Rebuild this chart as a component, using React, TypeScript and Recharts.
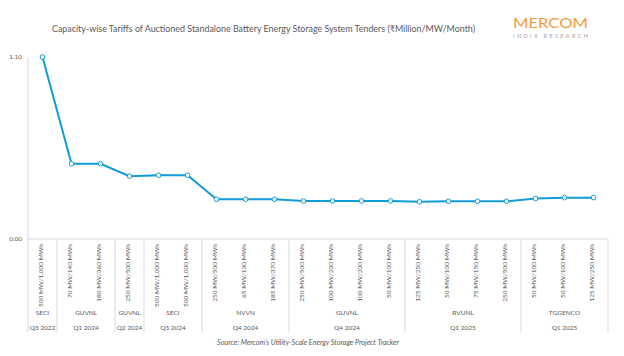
import React from "react";
import { CartesianGrid, Line, LineChart, XAxis, YAxis } from "recharts";

const tenderCapacities = [
  "500 MW/1,000 MWh",
  "70 MW/140 MWh",
  "180 MW/360 MWh",
  "250 MW/500 MWh",
  "500 MW/1,000 MWh",
  "500 MW/1,000 MWh",
  "250 MW/500 MWh",
  "65 MW/130 MWh",
  "185 MW/370 MWh",
  "250 MW/500 MWh",
  "100 MW/200 MWh",
  "100 MW/200 MWh",
  "50 MW/100 MWh",
  "125 MW/250 MWh",
  "50 MW/100 MWh",
  "75 MW/150 MWh",
  "250 MW/500 MWh",
  "50 MW/100 MWh",
  "50 MW/100 MWh",
  "125 MW/250 MWh",
];

const tariffs = [
  1.1, 0.455, 0.455, 0.38, 0.385, 0.385, 0.24, 0.24, 0.24, 0.23, 0.23, 0.23, 0.23,
  0.225, 0.228, 0.228, 0.228, 0.245, 0.25, 0.25,
];

const agencies = ["SECI", "GUVNL", "GUVNL", "SECI", "NVVN", "GUVNL", "RVUNL", "TGGENCO"];
const quarters = ["Q3 2022", "Q1 2024", "Q2 2024", "Q3 2024", "Q4 2024", "Q4 2024", "Q1 2025", "Q1 2025"];
const groupSizes = [1, 2, 1, 2, 3, 4, 4, 3];

const yTicks = [0, 1.1];

const data = tenderCapacities.map((cap, i) => ({ id: `t${i}`, cap, tariff: tariffs[i] }));

// index of first tender in each group
const groupStarts: number[] = [];
groupSizes.reduce((acc, n) => {
  groupStarts.push(acc);
  return acc + n;
}, 0);

const W = 624;
const H = 356;
const PLOT_LEFT = 28;
const PLOT_RIGHT = 608;
const BAND = (PLOT_RIGHT - PLOT_LEFT) / tenderCapacities.length;
const HALF = BAND / 2;

const LINE_COLOR = "#119bd7";
const TEXT = "#595959";
const GRID = "#d9d9d9";
const FONT = "Lato, 'Open Sans', sans-serif";

function CategoryTick(props: any) {
  const { x, y, payload } = props;
  const i = payload.index;
  const g = groupStarts.indexOf(i);
  const isLast = i === tenderCapacities.length - 1;
  return (
    <g>
      <text
        x={x}
        y={y + 5}
        transform={`rotate(-90, ${x}, ${y + 5})`}
        textAnchor="end"
        dy="0.1em"
        fontSize={6.5}
        fill={TEXT}
        fontFamily={FONT}
      >
        {tenderCapacities[i]}
      </text>
      {g >= 0 && (
        <>
          <line x1={x - HALF} x2={x - HALF} y1={y} y2={y + 93} stroke={GRID} strokeWidth={1} />
          <text
            x={x - HALF + (groupSizes[g] * BAND) / 2}
            y={y + 76}
            textAnchor="middle"
            fontSize={6.5}
            fill={TEXT}
            fontFamily={FONT}
          >
            {agencies[g]}
          </text>
          <text
            x={x - HALF + (groupSizes[g] * BAND) / 2}
            y={y + 91}
            textAnchor="middle"
            fontSize={6.5}
            fill={TEXT}
            fontFamily={FONT}
          >
            {quarters[g]}
          </text>
        </>
      )}
      {isLast && <line x1={x + HALF} x2={x + HALF} y1={y} y2={y + 93} stroke={GRID} strokeWidth={1} />}
    </g>
  );
}

export default function App() {
  return (
    <div style={{ position: "absolute", left: 0, top: 0, width: W, height: H, background: "#fff" }}>
      <LineChart
        width={W}
        height={H}
        data={data}
        margin={{ top: 57, right: W - PLOT_RIGHT, bottom: 0, left: 0 }}
      >
        <CartesianGrid horizontal={false} vertical={false} />
        <XAxis
          dataKey="id"
          interval={0}
          height={H - 239}
          padding={{ left: HALF, right: HALF }}
          axisLine={{ stroke: GRID }}
          tickLine={false}
          tickSize={0}
          tickMargin={0}
          tick={<CategoryTick />}
        />
        <YAxis
          width={PLOT_LEFT}
          domain={[0, 1.1]}
          ticks={yTicks}
          axisLine={{ stroke: GRID }}
          tickLine={false}
          tickSize={0}
          tickMargin={6}
          tickFormatter={(v: number) => v.toFixed(2)}
          tick={{ fontSize: 6.5, fill: TEXT, fontFamily: FONT }}
        />
        <Line
          type="linear"
          dataKey="tariff"
          stroke={LINE_COLOR}
          strokeWidth={2}
          dot={{ r: 2.3, fill: "#fff", stroke: LINE_COLOR, strokeWidth: 1 }}
          isAnimationActive={false}
        />
      </LineChart>
      <svg width={W} height={H} style={{ position: "absolute", left: 0, top: 0, pointerEvents: "none" }}>
        <text x={52} y={32} fontSize={9} fill={TEXT} fontFamily={FONT} textLength={423} lengthAdjust="spacingAndGlyphs">
          Capacity-wise Tariffs of Auctioned Standalone Battery Energy Storage System Tenders (₹Million/MW/Month)
        </text>
        <text x={513} y={27.5} fontSize={12.5} fill="#f39a3c" fontFamily={FONT} textLength={75} lengthAdjust="spacingAndGlyphs">
          MERCOM
        </text>
        <text x={513} y={38} fontSize={5.5} fill="#a0a0a0" fontFamily={FONT} textLength={75} lengthAdjust="spacing">
          INDIA RESEARCH
        </text>
        <text x={217} y={345} fontSize={6.8} fill={TEXT} fontFamily={FONT} fontStyle="italic" textLength={182} lengthAdjust="spacingAndGlyphs">
          Source: Mercom's Utility-Scale Energy Storage Project Tracker
        </text>
      </svg>
    </div>
  );
}
